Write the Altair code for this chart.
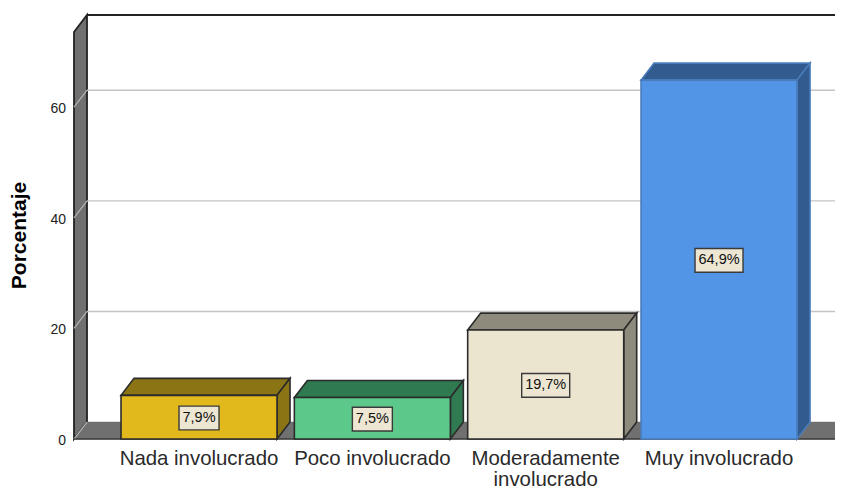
import altair as alt
import pandas as pd

categories = ["Nada involucrado", "Poco involucrado", "Moderadamente\ninvolucrado", "Muy involucrado"]
values = [7.9, 7.5, 19.7, 64.9]
value_labels = ["7,9%", "7,5%", "19,7%", "64,9%"]
front_colors = ["#e2b91c", "#5cc98a", "#ebe5d0", "#5294e6"]
side_colors = ["#8a7414", "#2f7a50", "#8f8b7c", "#325c90"]
edge_colors = ["#2b2b2b", "#2b2b2b", "#2b2b2b", "#4a7cba"]
grid_ticks = [20, 40, 60]
y_ticks = [0, 20, 40, 60]
wall_top = 73.6

X_MIN, X_MAX = -1.102, 3.669
Y_MIN, Y_MAX = -9.22, 77.94
BAR_W = 0.90
DX = 0.075
DY = 3.07
FONT = "Liberation Sans"
WALL = "#707070"
LINE = "#222222"


def para_horizontal(x0, x1, y0, name, fill, edge, order):
    """Top-like face: bottom edge at y0 from x0 to x1, shifted back by the depth."""
    return [
        dict(x=x0, y=y0, y2=y0, name=name, fill=fill, edge=edge, order=order),
        dict(x=x0 + DX, y=y0, y2=y0 + DY, name=name, fill=fill, edge=edge, order=order),
        dict(x=x1, y=y0, y2=y0 + DY, name=name, fill=fill, edge=edge, order=order),
        dict(x=x1 + DX, y=y0 + DY, y2=y0 + DY, name=name, fill=fill, edge=edge, order=order),
    ]


def para_vertical(x0, y0, y1, name, fill, edge, order):
    """Side-like face: front edge at x0 from y0 to y1, shifted back by the depth."""
    return [
        dict(x=x0, y=y0, y2=y1, name=name, fill=fill, edge=edge, order=order),
        dict(x=x0 + DX, y=y0 + DY, y2=y1 + DY, name=name, fill=fill, edge=edge, order=order),
    ]


X = alt.X("x:Q", scale=alt.Scale(domain=[X_MIN, X_MAX], nice=False, zero=False), axis=None)
Y = alt.Y(
    "y:Q",
    scale=alt.Scale(domain=[Y_MIN, Y_MAX], nice=False, zero=False),
    axis=alt.Axis(
        values=y_ticks, offset=-60, domain=False, ticks=False, grid=False, labelPadding=2.5,
        labelFont=FONT, labelFontSize=14, labelColor=LINE, labelOffset=1.5,
        title="Porcentaje", titleFont=FONT, titleFontSize=21, titleFontWeight="bold",
        titleColor="#000000", titleX=-39, titleY=227, titleAngle=-90,
        labelOverlap=False,
    ),
)

wall_left = X_MIN + (74 - 8) / 173.33

# Walls and floor
wall_df = pd.DataFrame(para_vertical(wall_left, 0, wall_top, "wall", WALL, LINE, 0))
floor_df = pd.DataFrame(para_horizontal(wall_left, X_MAX - DX + 0.2, 0, "floor", WALL, WALL, 0))

wall = alt.Chart(wall_df).mark_area(fill=WALL, stroke=LINE, strokeWidth=1.8).encode(
    x=X, y=Y, y2="y2:Q")
floor = alt.Chart(floor_df).mark_area(fill=WALL, stroke=WALL, strokeWidth=0.5, clip=True).encode(
    x=X, y=Y, y2="y2:Q")

# Back top line
top_df = pd.DataFrame({"x": [wall_left + DX], "x2": [X_MAX], "y": [wall_top + DY]})
top_line = alt.Chart(top_df).mark_rule(color=LINE, strokeWidth=2).encode(x=X, x2="x2:Q", y=Y)

# Gridlines on back wall
grid_df = pd.DataFrame({"x": wall_left + DX, "x2": X_MAX, "y": [t + DY for t in grid_ticks]})
grid = alt.Chart(grid_df).mark_rule(color="#c4c4c4", strokeWidth=1.4).encode(x=X, x2="x2:Q", y=Y)

# Gridline continuation across left wall
diag_rows = []
for t in y_ticks:
    diag_rows.append(dict(x=wall_left, y=t, t=t))
    diag_rows.append(dict(x=wall_left + DX, y=t + DY, t=t))
diag = alt.Chart(pd.DataFrame(diag_rows)).mark_line(color="#b4b4b4", strokeWidth=1.2).encode(
    x=X, y=Y, detail="t:N")

# Floor front line
base_df = pd.DataFrame({"x": [wall_left], "x2": [X_MAX], "y": [0]})
base = alt.Chart(base_df).mark_rule(color="#3a3a3a", strokeWidth=1.6).encode(x=X, x2="x2:Q", y=Y)

# 3-D bars
layers = [wall, floor, top_line, grid, diag, base]
for i, v in enumerate(values):
    x0, x1 = i - BAR_W / 2, i + BAR_W / 2
    faces = pd.DataFrame(
        para_horizontal(x0, x1, v, f"top{i}", side_colors[i], edge_colors[i], 0)
        + para_vertical(x1, 0, v, f"side{i}", side_colors[i], edge_colors[i], 1)
    )
    layers.append(
        alt.Chart(faces).mark_area(stroke=edge_colors[i], strokeWidth=1.6, fill=side_colors[i]).encode(
            x=X, y=Y, y2="y2:Q", detail="name:N")
    )
    front = pd.DataFrame({"x": [x0], "x2": [x1], "y": [0], "y2": [v]})
    layers.append(
        alt.Chart(front).mark_rect(fill=front_colors[i], stroke=edge_colors[i], strokeWidth=1.6).encode(
            x=X, x2="x2:Q", y=Y, y2="y2:Q")
    )

# Value boxes
box_half_w = [20 / 173.33 if len(s) == 4 else 24 / 173.33 for s in value_labels]
box_df = pd.DataFrame({
    "x": [i - h for i, h in enumerate(box_half_w)],
    "x2": [i + h for i, h in enumerate(box_half_w)],
    "y": [v / 2 - 2.3 for v in values],
    "y2": [v / 2 + 2.0 for v in values],
})
boxes = alt.Chart(box_df).mark_rect(fill="#ece6d2", stroke="#3a3a3a", strokeWidth=1.4).encode(
    x=X, x2="x2:Q", y=Y, y2="y2:Q")

text_df = pd.DataFrame({"x": range(4), "y": [v / 2 - 0.15 for v in values], "label": value_labels})
box_text = alt.Chart(text_df).mark_text(
    font=FONT, fontSize=14.5, color="#111111", baseline="middle", align="center"
).encode(x=X, y=Y, text="label:N")

# Category labels
cat_df = pd.DataFrame({"x": range(4), "y": [-1.85] * 4, "label": categories})
cat_text = alt.Chart(cat_df).mark_text(
    font=FONT, fontSize=20.4, color="#2a2a2a", baseline="top", align="center",
    lineBreak="\n", lineHeight=20.5,
).encode(x=X, y=Y, text="label:N")

layers += [boxes, box_text, cat_text]

chart = alt.layer(*layers).properties(
    width=827, height=482, padding=0,
    autosize=alt.AutoSizeParams(type="none"),
    background="#ffffff",
).configure_view(strokeWidth=0)

chart.save("out.html", embed_options={"renderer": "svg", "actions": False})
